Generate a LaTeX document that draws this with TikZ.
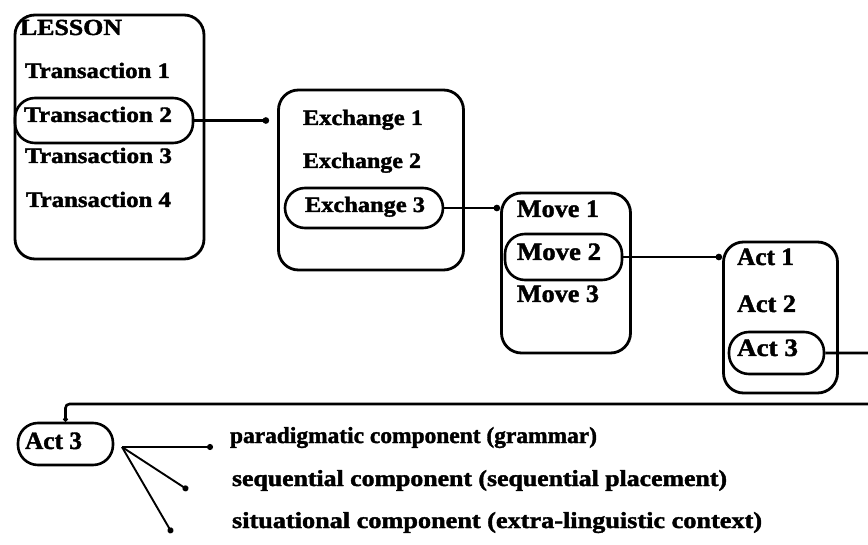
\documentclass[tikz,border=0pt]{standalone}
\usepackage{fontspec}
\usepackage{graphicx}
\setmainfont{Liberation Serif}[BoldFeatures={FakeBold=1.6}]
\usetikzlibrary{arrows.meta}
% set a label to a given width, keeping its natural height
\newcommand{\fitw}[2]{\resizebox{#1pt}{\height}{#2}}

\begin{document}
\begin{tikzpicture}[x=1pt,y=-1pt,
  frame/.style={draw, line width=2.8pt, rounded corners=20pt, inner sep=0pt},
  pill/.style={draw, line width=2.6pt, rounded corners=20pt, inner sep=0pt},
  lbl/.style={anchor=base west, inner sep=0pt, outer sep=0pt},
  fsmall/.style={font=\fontsize{22}{26}\selectfont\bfseries},
  fmid/.style={font=\fontsize{23}{27}\selectfont\bfseries},
  fbig/.style={font=\fontsize{25}{30}\selectfont\bfseries},
  link/.style={line width=2.4pt, -{Circle[length=6.5pt]}},
  fanline/.style={line width=1.9pt, -{Circle[length=6pt]}}]

\useasboundingbox (0,0) rectangle (868,545);
\clip (0,0) rectangle (868,545);

% level frames
\node[frame, minimum width=189, minimum height=244] (lesson) at (109.5,137) {};
\node[frame, minimum width=185, minimum height=180] (exch)   at (371,180) {};
\node[frame, minimum width=129, minimum height=160] (move)   at (566,273) {};
\node[frame, minimum width=114, minimum height=151] (act)    at (780.5,317.5) {};

% selected items
\node[pill, minimum width=178, minimum height=45] (tr2) at (104,120.5) {};
\node[pill, minimum width=158, minimum height=40] (ex3) at (364,208) {};
\node[pill, minimum width=117, minimum height=46] (mv2) at (563.5,257) {};
\node[pill, minimum width=95,  minimum height=42] (ac3) at (776.5,353) {};
\node[pill, minimum width=95,  minimum height=42] (acb) at (65.5,444) {};

% lesson
\node[lbl, fmid]   (tlesson) at (20,35)  {\fitw{102}{LESSON}};
\node[lbl, fsmall] (ttr1) at (25,78)  {\fitw{145}{Transaction 1}};
\node[lbl, fsmall] (ttr2) at (24,122) {\fitw{148}{Transaction 2}};
\node[lbl, fsmall] (ttr3) at (25,163) {\fitw{147}{Transaction 3}};
\node[lbl, fsmall] (ttr4) at (26,207) {\fitw{145}{Transaction 4}};

% exchanges
\node[lbl, fsmall] (tex1) at (303,125) {\fitw{120}{Exchange 1}};
\node[lbl, fsmall] (tex2) at (303,168) {\fitw{118}{Exchange 2}};
\node[lbl, fsmall] (tex3) at (305,212) {\fitw{120}{Exchange 3}};

% moves
\node[lbl, fbig] (tmv1) at (517,217) {\fitw{82}{Move 1}};
\node[lbl, fbig] (tmv2) at (517,260) {\fitw{84}{Move 2}};
\node[lbl, fbig] (tmv3) at (517,302) {\fitw{82}{Move 3}};

% acts
\node[lbl, fbig] (tac1) at (737,265) {\fitw{57}{Act 1}};
\node[lbl, fbig] (tac2) at (737,312) {\fitw{59}{Act 2}};
\node[lbl, fbig] (tac3) at (737,356) {\fitw{61}{Act 3}};
\node[lbl, fbig] (tacb) at (25,449)  {\fitw{57}{Act 3}};

% components of the act
\node[lbl, fmid] (cpar) at (230,443) {\fitw{367}{paradigmatic component (grammar)}};
\node[lbl, fmid] (cseq) at (232,486) {\fitw{495}{sequential component (sequential placement)}};
\node[lbl, fmid] (csit) at (232,528) {\fitw{530}{situational component (extra-linguistic context)}};

% links between levels
\draw[link] (tr2.east) -- ([xshift=-8pt]exch.west |- tr2.east);
\draw[link] (ex3.east) -- (ex3.east -| move.west);
\draw[link] (mv2.east) -- (mv2.east -| act.west);
\draw[line width=2.6pt, rounded corners=4pt, -{Circle[length=4.5pt]}]
  (ac3.east) -- ++(120,0) |- (acb.north |- 0,404) -- (acb.north);

% fan of components
\coordinate (fan) at (122,447);
\coordinate (dpar) at (213,447);
\coordinate (dseq) at (188,490);
\coordinate (dsit) at (172,533);
\draw[fanline] (fan) -- (dpar);
\draw[fanline] (fan) -- (dseq);
\draw[fanline] (fan) -- (dsit);
\end{tikzpicture}
\end{document}
